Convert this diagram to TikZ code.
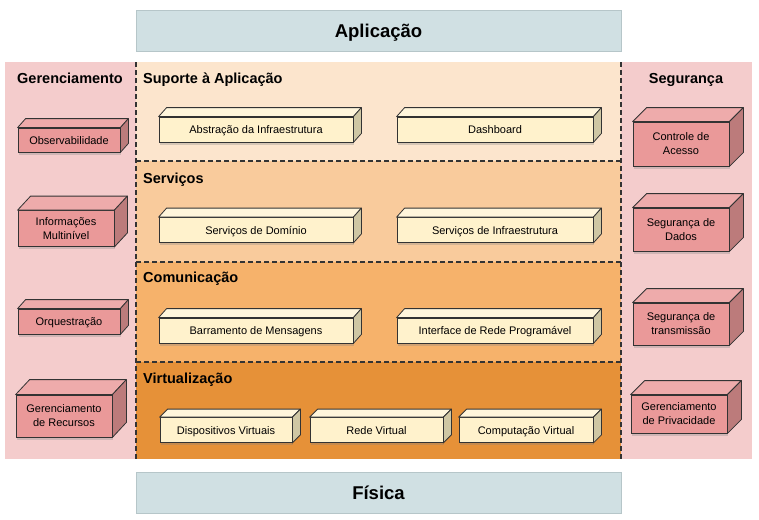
\documentclass[tikz,border=0pt]{standalone}
\usepackage{fontspec}
\setmainfont{Liberation Sans}
\usetikzlibrary{shadows}

\definecolor{barracor}{HTML}{D0E0E3}
\definecolor{barraborda}{HTML}{B6C6C9}
\definecolor{painel}{HTML}{F4CCCC}
\definecolor{camadaA}{HTML}{FCE5CD}
\definecolor{camadaB}{HTML}{F9CB9C}
\definecolor{camadaC}{HTML}{F6B26B}
\definecolor{camadaD}{HTML}{E69138}
\definecolor{creme}{HTML}{FFF2CC}
\definecolor{cremetopo}{HTML}{FFF6DC}
\definecolor{cremelado}{HTML}{CFC7A4}
\definecolor{rosa}{HTML}{EA9999}
\definecolor{rosatopo}{HTML}{EEABAB}
\definecolor{rosalado}{HTML}{BC7B7B}
\definecolor{contorno}{HTML}{333333}

\begin{document}
\begin{tikzpicture}
[
    x=1pt, y=-1pt,
    barra/.style={draw=barraborda, fill=barracor, minimum width=485pt, minimum height=41pt,
        text height=13pt, text depth=0pt, font=\fontsize{18.5}{22}\selectfont\bfseries},
    titulo/.style={inner sep=0pt, anchor=base, font=\fontsize{14.5}{17}\selectfont\bfseries},
    bloco/.style={draw=contorno, line width=0.8pt, fill=creme, minimum height=25pt,
        align=center, font=\fontsize{11}{14}\selectfont,
        drop shadow={shadow xshift=1pt, shadow yshift=-2.5pt, opacity=0.3}},
    linha/.style={text height=8pt, text depth=0pt},
    caixa/.style={bloco, fill=rosa},
    face/.style={draw=contorno, line width=0.8pt, line join=round},
    divisa/.style={draw=contorno, line width=1.3pt, dash pattern=on 5pt off 3pt},
]
\useasboundingbox (0,0) rectangle (759,519);

% paineis e camadas
\fill[painel] (5,62) rectangle (136,459);
\fill[painel] (621,62) rectangle (752,459);
\fill[camadaA] (136,62) rectangle (621,161);
\fill[camadaB] (136,161) rectangle (621,262);
\fill[camadaC] (136,262) rectangle (621,362);
\fill[camadaD] (136,362) rectangle (621,459);

\node[barra] (aplic) at (378.5,31) {Aplicação};
\node[barra] (fisica) at (378.5,493) {Física};

\draw[divisa] (136,62) -- (136,459);
\draw[divisa] (621,62) -- (621,459);
\foreach \y in {161,262,362}
    \draw[divisa] (136,\y) -- (621,\y);

% titulos
\node[titulo] (tger) at (70,83) {Gerenciamento};
\node[titulo] (tseg) at (686,83) {Segurança};
\node[titulo, anchor=base west] (tsup) at (143,83) {Suporte à Aplicação};
\node[titulo, anchor=base west] (tserv) at (143,183) {Serviços};
\node[titulo, anchor=base west] (tcom) at (143,282) {Comunicação};
\node[titulo, anchor=base west] (tvirt) at (143,383) {Virtualização};

% blocos das camadas
\node[bloco, linha, minimum width=194pt] (abs) at (256,129.5) {Abstração da Infraestrutura};
\node[bloco, linha, minimum width=196pt] (dash) at (495,129.5) {Dashboard};
\node[bloco, linha, minimum width=194pt] (dom) at (256,230) {Serviços de Domínio};
\node[bloco, linha, minimum width=196pt] (infra) at (495,230) {Serviços de Infraestrutura};
\node[bloco, linha, minimum width=194pt] (barr) at (256,330.5) {Barramento de Mensagens};
\node[bloco, linha, minimum width=196pt] (irp) at (495,330.5) {Interface de Rede Programável};
\node[bloco, linha, minimum width=132pt] (disp) at (226,430) {Dispositivos Virtuais};
\node[bloco, linha, minimum width=133pt] (rede) at (376.5,430) {Rede Virtual};
\node[bloco, linha, minimum width=134pt] (comp) at (526,430) {Computação Virtual};

% gerenciamento
\node[caixa, linha, minimum width=102pt, minimum height=24pt] (obs) at (69,140) {Observabilidade};
\node[caixa, minimum width=96pt, minimum height=36pt] (info) at (66,228.5) {Informações\\Multinível};
\node[caixa, linha, minimum width=102pt, minimum height=25pt] (orq) at (69,321.5) {Orquestração};
\node[caixa, minimum width=96pt, minimum height=42pt] (rec) at (64,416) {Gerenciamento\\de Recursos};

% seguranca
\node[caixa, minimum width=96pt, minimum height=44pt] (ctrl) at (681,144) {Controle de\\Acesso};
\node[caixa, minimum width=96pt, minimum height=43pt] (dados) at (681,229.5) {Segurança de\\Dados};
\node[caixa, minimum width=96pt, minimum height=42pt] (trans) at (681,324) {Segurança de\\transmissão};
\node[caixa, minimum width=96pt, minimum height=38pt] (priv) at (679,414) {Gerenciamento\\de Privacidade};

% faces de cima e do lado
\foreach \n/\dx/\dy/\tc/\sc in {abs/8/9/cremetopo/cremelado, dash/8/9/cremetopo/cremelado,
    dom/8/9/cremetopo/cremelado, infra/8/9/cremetopo/cremelado,
    barr/8/9/cremetopo/cremelado, irp/8/9/cremetopo/cremelado,
    disp/8/8/cremetopo/cremelado, rede/8/8/cremetopo/cremelado, comp/8/8/cremetopo/cremelado,
    obs/8/9/rosatopo/rosalado, orq/8/9/rosatopo/rosalado,
    info/13/14/rosatopo/rosalado, rec/14/15/rosatopo/rosalado,
    ctrl/14/14/rosatopo/rosalado, dados/14/14/rosatopo/rosalado,
    trans/14/14/rosatopo/rosalado, priv/14/14/rosatopo/rosalado}
{
    \draw[face, fill=\tc] (\n.north west) -- ++(\dx,-\dy)
        -- ([shift={(\dx,-\dy)}]\n.north east) -- (\n.north east) -- cycle;
    \draw[face, fill=\sc] (\n.north east) -- ++(\dx,-\dy)
        -- ([shift={(\dx,-\dy)}]\n.south east) -- (\n.south east) -- cycle;
}
\end{tikzpicture}
\end{document}
